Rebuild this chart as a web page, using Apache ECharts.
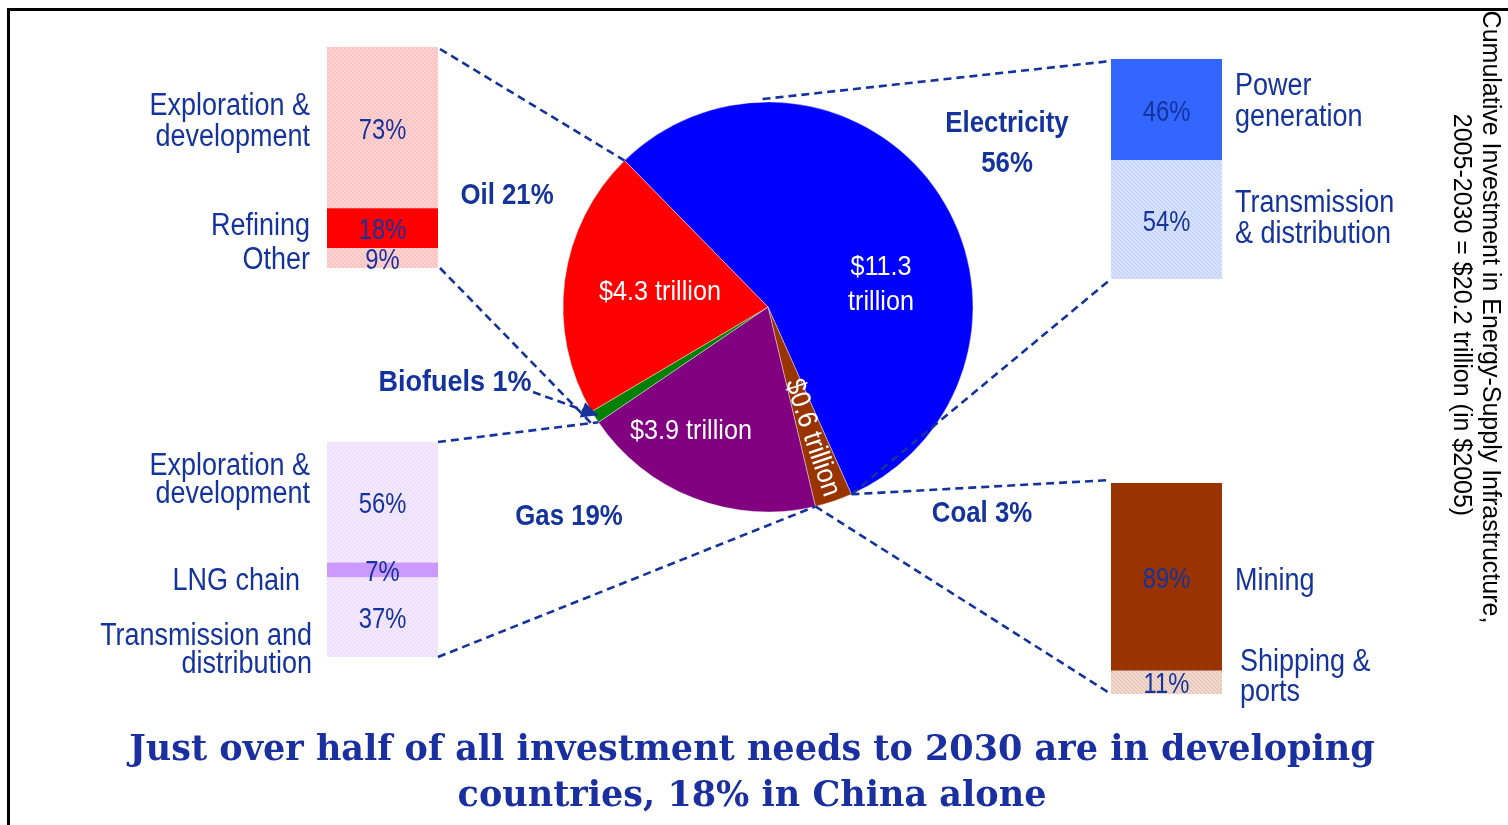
<!DOCTYPE html>
<html>
<head>
<meta charset="utf-8">
<title>Cumulative Investment in Energy-Supply Infrastructure 2005-2030</title>
<script src="https://cdn.jsdelivr.net/npm/echarts@6/dist/echarts.min.js"></script>
<style>
  html, body { margin: 0; padding: 0; background: #ffffff; }
  #chart { width: 1508px; height: 825px; }
</style>
</head>
<body>
<div id="chart"></div>
<script>
// ---- Data: cumulative investment 2005-2030, $ trillion (2005 dollars) ----
const sectors = ['Electricity', 'Coal', 'Gas', 'Biofuels', 'Oil'];
const investment = [11.3, 0.6, 3.9, 0.2, 4.3];

// Breakdown of each fuel chain, % of the sector total
const oilParts = ['Exploration &\ndevelopment', 'Refining', 'Other'];
const oilShares = [73, 18, 9];
const gasParts = ['Exploration &\ndevelopment', 'LNG chain', 'Transmission and\ndistribution'];
const gasShares = [56, 7, 37];
const elecParts = ['Power\ngeneration', 'Transmission\n& distribution'];
const elecShares = [46, 54];
const coalParts = ['Mining', 'Shipping &\nports'];
const coalShares = [89, 11];

const sideTitle = ['Cumulative Investment in Energy-Supply Infrastructure,',
                   '2005-2030 = $20.2 trillion (in $2005)'];
const caption = ['Just over half of all investment needs to 2030 are in developing',
                 'countries, 18% in China alone'];

// ---- Styling & layout ----
const NAVY = '#15339C';
const SANS = "'Liberation Sans', Arial, sans-serif";
const sliceColors = ['#0000FF', '#993300', '#800080', '#008000', '#FF0000'];
const PIE = { cx: 768, cy: 307, r: 205, startAngle: 134.4 };

function hatch(bg, line) {
  const c = document.createElement('canvas');
  c.width = 4; c.height = 4;
  const g = c.getContext('2d');
  g.fillStyle = bg; g.fillRect(0, 0, 4, 4);
  g.strokeStyle = line; g.lineWidth = 0.8;
  g.beginPath();
  g.moveTo(0, 0); g.lineTo(4, 4);
  g.moveTo(-2, 2); g.lineTo(2, 6);
  g.moveTo(2, -2); g.lineTo(6, 2);
  g.stroke();
  return { image: c, repeat: 'repeat' };
}

// One stacked column per fuel chain
const blocks = [
  { name: 'oil',  parts: oilParts,  shares: oilShares,
    colors: [hatch('#FFD2D2', '#FFB0B0'), '#FF0000', hatch('#FFD2D2', '#FFB0B0')],
    box: { left: 327, top: 47, width: 111, height: 221 },
    side: 'left', labelX: 310, labelY: [122, 226, 260], labelDX: [0, 0, 0], lh: 31 },
  { name: 'gas',  parts: gasParts,  shares: gasShares,
    colors: [hatch('#F3E8FF', '#E6D4FA'), '#CC99FF', hatch('#F3E8FF', '#E6D4FA')],
    box: { left: 327, top: 442, width: 111, height: 215 },
    side: 'left', labelX: 310, labelY: [480, 581, 650], labelDX: [0, -10, 2], lh: 28 },
  { name: 'elec', parts: elecParts, shares: elecShares,
    colors: ['#3366FF', hatch('#D6E0FF', '#B8C8F8')],
    box: { left: 1111, top: 59, width: 111, height: 220 },
    side: 'right', labelX: 1235, labelY: [102, 219], labelDX: [0, 0], lh: 31 },
  { name: 'coal', parts: coalParts, shares: coalShares,
    colors: ['#993300', hatch('#F0D8CC', '#DDB8A8')],
    box: { left: 1111, top: 483, width: 111, height: 211 },
    side: 'right', labelX: 1235, labelY: [581, 677], labelDX: [0, 5], lh: 30 }
];

const grids = [], xAxes = [], yAxes = [], series = [];
blocks.forEach((b, gi) => {
  grids.push(Object.assign({ containLabel: false }, b.box));
  xAxes.push({ type: 'category', data: [b.name], show: false, gridIndex: gi });
  yAxes.push({ type: 'value', min: 0, max: 100, inverse: true, show: false, gridIndex: gi });
  b.shares.forEach((v, k) => {
    series.push({
      type: 'bar', name: b.name + k, stack: b.name,
      xAxisIndex: gi, yAxisIndex: gi,
      barWidth: '100%', data: [v],
      itemStyle: { color: b.colors[k] },
      label: { show: false },
      silent: true
    });
  });
});

const total = investment.reduce((a, b) => a + b, 0);
series.push({
  type: 'pie', center: [PIE.cx, PIE.cy], radius: PIE.r,
  startAngle: PIE.startAngle, clockwise: true, silent: true,
  label: { show: false }, labelLine: { show: false },
  itemStyle: { borderColor: '#ffffff', borderWidth: 0.4 },
  data: sectors.map((s, i) => ({ name: s, value: investment[i], itemStyle: { color: sliceColors[i] } }))
});

const chart = echarts.init(document.getElementById('chart'), null, { renderer: 'canvas' });
chart.setOption({
  animation: false,
  backgroundColor: '#ffffff',
  grid: grids, xAxis: xAxes, yAxis: yAxes, series: series
});

// ---- Annotation layer: labels, connectors, titles ----
// Angle (clockwise from 12 o'clock) of the boundaries between slices
const theta0 = 90 - PIE.startAngle;
const bounds = [theta0];
investment.reduce((acc, v) => { acc += v; bounds.push(theta0 + acc / total * 360); return acc; }, 0);
function onRim(deg, r) {
  const a = deg * Math.PI / 180, rr = r === undefined ? PIE.r : r;
  return [PIE.cx + rr * Math.sin(a), PIE.cy - rr * Math.cos(a)];
}
const pct = i => Math.round(investment[i] / total * 100) + '%';
const trillion = i => '$' + investment[i].toFixed(1) + ' trillion';

// Text in a condensed face: a regular sans squeezed horizontally
function txt(x, y, text, o) {
  o = o || {};
  return {
    type: 'text', x: x, y: y, rotation: o.rotation || 0, silent: true, z: 100,
    scaleX: o.sx || 1,
    style: {
      text: text, fill: o.fill || NAVY,
      font: o.font || ('31px ' + SANS),
      align: o.align || 'center', textAlign: o.align || 'center',
      verticalAlign: 'middle', textVerticalAlign: 'middle',
      lineHeight: o.lh || 31
    }
  };
}
function dash(p, q) {
  return { type: 'line', silent: true, z: 90,
    shape: { x1: p[0], y1: p[1], x2: q[0], y2: q[1] },
    style: { stroke: NAVY, lineWidth: 2.6, lineDash: [8, 5] } };
}

const g = [];
// frame
g.push({ type: 'polyline', silent: true, shape: { points: [[8.5, 825], [8.5, 9.5], [1508, 9.5]] },
         style: { stroke: '#000', lineWidth: 3, fill: null } });

// share labels inside each column segment
blocks.forEach((b, gi) => {
  let cum = 0;
  b.shares.forEach(v => {
    const p = chart.convertToPixel({ gridIndex: gi }, [0, cum + v / 2]);
    g.push(txt(p[0], p[1] + 3, v + '%', { font: '29px ' + SANS, sx: 0.82 }));
    cum += v;
  });
});

// white value labels inside the pie
const iE = 0, iC = 1, iG = 2, iB = 3, iO = 4;
const whiteFont = '28px ' + SANS;
g.push(txt(PIE.cx + 113, PIE.cy - 22, trillion(iE).replace(' ', '\n'), { fill: '#fff', font: whiteFont, lh: 35, sx: 0.9 }));
g.push(txt(PIE.cx - 108, PIE.cy - 15, trillion(iO), { fill: '#fff', font: whiteFont, sx: 0.9 }));
g.push(txt(PIE.cx - 77, PIE.cy + 124, trillion(iG), { fill: '#fff', font: whiteFont, sx: 0.9 }));
const coalMid = (bounds[iC] + bounds[iC + 1]) / 2;
const cp = onRim(coalMid, 138);
g.push(txt(cp[0], cp[1], trillion(iC), { fill: '#fff', font: whiteFont, sx: 0.9,
       rotation: -(90 - (180 - coalMid)) * Math.PI / 180 }));

// sector names around the pie
const bold = 'bold 30px ' + SANS;
g.push(txt(1007, 144, sectors[iE] + '\n' + pct(iE), { font: bold, lh: 40, sx: 0.86 }));
g.push(txt(507, 196, sectors[iO] + ' ' + pct(iO), { font: bold, sx: 0.86 }));
g.push(txt(455, 383, sectors[iB] + ' ' + pct(iB), { font: bold, sx: 0.9 }));
g.push(txt(569, 517, sectors[iG] + ' ' + pct(iG), { font: bold, sx: 0.86 }));
g.push(txt(982, 514, sectors[iC] + ' ' + pct(iC), { font: bold, sx: 0.86 }));

// column part names
blocks.forEach(b => {
  b.parts.forEach((p, k) => {
    g.push(txt(b.labelX + b.labelDX[k], b.labelY[k], p,
      { align: b.side === 'left' ? 'right' : 'left', font: '31px ' + SANS, lh: b.lh, sx: 0.87 }));
  });
});

// connectors from columns to the pie
const oil = blocks[0].box, gas = blocks[1].box, elec = blocks[2].box, coal = blocks[3].box;
const R = oil.left + oil.width;
g.push(dash([R + 2, oil.top + 2], onRim(bounds[5])));
g.push(dash([R + 2, oil.top + oil.height], onRim(bounds[iB], PIE.r + 6)));
g.push(dash([R, gas.top], onRim(bounds[iB])));
g.push(dash([R, gas.top + gas.height], onRim(bounds[iC + 1])));
g.push(dash(onRim(-1.5, PIE.r + 3), [elec.left, elec.top + 2]));
g.push(dash(onRim(bounds[iC]), [elec.left, elec.top + elec.height]));
g.push(dash(onRim(bounds[iC]), [coal.left, coal.top - 3]));
g.push(dash(onRim(bounds[iC + 1]), [coal.left, coal.top + coal.height]));

// arrow to the biofuels sliver
const bioTip = onRim((bounds[iB] + bounds[iB + 1]) / 2, PIE.r - 3);
const tail = [533, 392];
g.push(dash(tail, bioTip));
const ang = Math.atan2(bioTip[1] - tail[1], bioTip[0] - tail[0]);
const L = 16, W = 8;
const base = [bioTip[0] - L * Math.cos(ang), bioTip[1] - L * Math.sin(ang)];
g.push({ type: 'polygon', silent: true, z: 95, shape: { points: [
  bioTip,
  [base[0] + W * Math.sin(ang), base[1] - W * Math.cos(ang)],
  [base[0] - W * Math.sin(ang), base[1] + W * Math.cos(ang)]
] }, style: { fill: NAVY } });

// vertical title on the right
const sideFont = '25px ' + SANS;
g.push(txt(1490, 317, sideTitle[0], { fill: '#000', font: sideFont, rotation: -Math.PI / 2 }));
g.push(txt(1461, 315, sideTitle[1], { fill: '#000', font: sideFont, rotation: -Math.PI / 2 }));

// caption
const capFont = "bold 35px 'DejaVu Serif', 'Liberation Serif', serif";
g.push(txt(752, 751, caption[0], { fill: '#1A2FA0', font: capFont }));
g.push(txt(752, 797, caption[1], { fill: '#1A2FA0', font: capFont }));

chart.setOption({ graphic: { elements: g } });
</script>
</body>
</html>
